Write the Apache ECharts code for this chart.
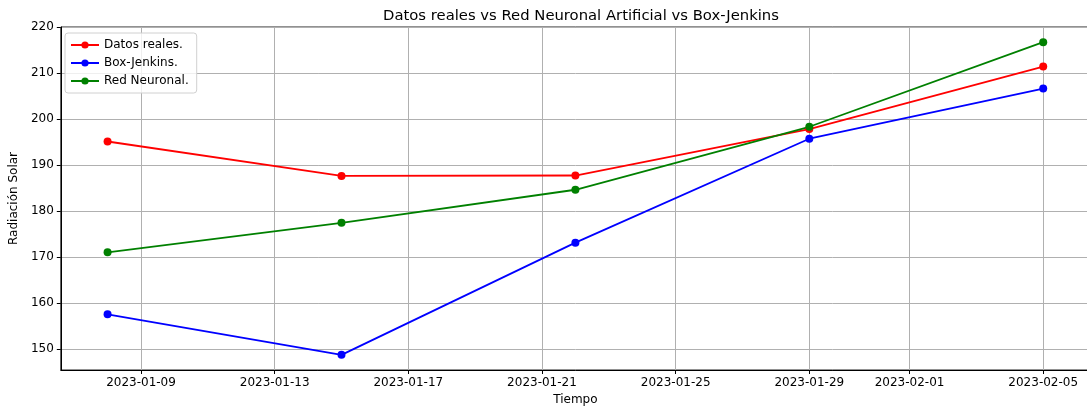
<!DOCTYPE html>
<html>
<head>
<meta charset="utf-8">
<script src="https://cdn.jsdelivr.net/npm/echarts@6/dist/echarts.min.js"></script>
<style>html,body{margin:0;padding:0;background:#fff;overflow:hidden;}#c{width:1100px;height:412px;}</style>
</head>
<body>
<div id="c"></div>
<script>
// ---- data ----
const dates = ['2023-01-08', '2023-01-15', '2023-01-22', '2023-01-29', '2023-02-05'];
const datosReales = [195.1, 187.6, 187.7, 197.8, 211.4];
const boxJenkins = [157.5, 148.7, 173.1, 195.7, 206.6];
const redNeuronal = [171.0, 177.4, 184.6, 198.3, 216.7];
const xTickLabels = ['2023-01-09', '2023-01-13', '2023-01-17', '2023-01-21', '2023-01-25', '2023-01-29', '2023-02-01', '2023-02-05'];
const yTickLabels = [150, 160, 170, 180, 190, 200, 210, 220];

function ts(s) { return Date.UTC(+s.slice(0, 4), +s.slice(5, 7) - 1, +s.slice(8, 10)); }
function pair(vals) { return dates.map((d, i) => [ts(d), vals[i]]); }
function fmt(v) {
  const d = new Date(Math.round(v));
  const p = n => (n < 10 ? '0' : '') + n;
  return d.getUTCFullYear() + '-' + p(d.getUTCMonth() + 1) + '-' + p(d.getUTCDate());
}

const span = ts(dates[dates.length - 1]) - ts(dates[0]);
const xMin = ts(dates[0]) - span * 0.05;
const xMax = ts(dates[dates.length - 1]) + span * 0.05;

const font = 'DejaVu Sans';
const chart = echarts.init(document.getElementById('c'), null, { renderer: 'canvas' });

function lineSeries(name, vals, color) {
  return {
    name: name,
    type: 'line',
    data: pair(vals),
    symbol: 'circle',
    symbolSize: 8,
    showSymbol: true,
    lineStyle: { color: color, width: 1.8 },
    itemStyle: { color: color },
    emphasis: { disabled: true },
    animation: false
  };
}

chart.setOption({
  animation: false,
  backgroundColor: '#fff',
  title: {
    text: 'Datos reales vs Red Neuronal Artificial vs Box-Jenkins',
    left: 576, top: 4, textAlign: 'center',
    textStyle: { fontFamily: font, fontSize: 14.8, fontWeight: 'normal', color: '#000' }
  },
  legend: {
    orient: 'vertical',
    left: 65, top: 33,
    itemWidth: 28, itemHeight: 9, itemGap: 6,
    padding: [6, 8, 6, 5],
    borderColor: '#d0d0d0', borderWidth: 1, borderRadius: 3,
    backgroundColor: 'rgba(255,255,255,0.8)',
    textStyle: { fontFamily: font, fontSize: 12, color: '#000' },
    data: ['Datos reales.', 'Box-Jenkins.', 'Red Neuronal.']
  },
  grid: {
    left: 60, top: 27, right: 10, height: 343,
    show: true, borderColor: '#222', borderWidth: 1, backgroundColor: 'transparent'
  },
  xAxis: {
    type: 'value',
    min: xMin, max: xMax,
    name: 'Tiempo', nameLocation: 'middle', nameGap: 23,
    nameTextStyle: { fontFamily: font, fontSize: 12, color: '#000' },
    axisLine: { show: true, lineStyle: { color: '#000', width: 1 } },
    axisTick: { show: true, length: 4, lineStyle: { color: '#000' }, customValues: xTickLabels.map(ts) },
    axisLabel: { fontFamily: font, fontSize: 12, color: '#000', margin: 7, customValues: xTickLabels.map(ts), formatter: v => fmt(v) },
    splitLine: { show: true, lineStyle: { color: '#b0b0b0', width: 1 } }
  },
  yAxis: {
    type: 'value',
    min: 145.4, max: 220,
    name: 'Radiación Solar', nameLocation: 'middle', nameGap: 40,
    nameTextStyle: { fontFamily: font, fontSize: 12, color: '#000' },
    axisLine: { show: true, lineStyle: { color: '#000', width: 1 } },
    axisTick: { show: true, length: 4, lineStyle: { color: '#000' }, customValues: yTickLabels },
    axisLabel: { fontFamily: font, fontSize: 12, color: '#000', margin: 7, customValues: yTickLabels },
    splitLine: { show: true, lineStyle: { color: '#b0b0b0', width: 1 } }
  },
  series: [
    lineSeries('Datos reales.', datosReales, '#ff0000'),
    lineSeries('Box-Jenkins.', boxJenkins, '#0000ff'),
    lineSeries('Red Neuronal.', redNeuronal, '#008000')
  ]
});
</script>
</body>
</html>
